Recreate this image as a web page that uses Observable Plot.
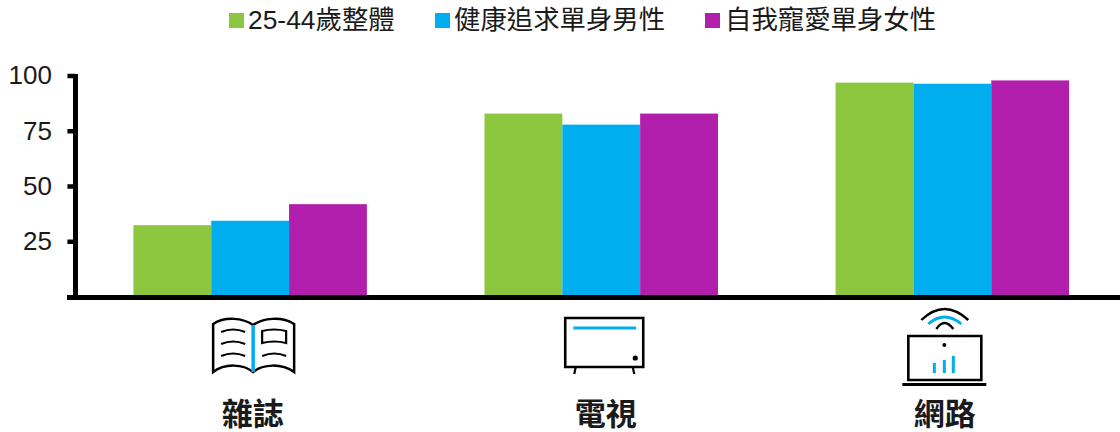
<!DOCTYPE html>
<html lang="zh-Hant">
<head>
<meta charset="utf-8">
<script src="https://cdn.jsdelivr.net/npm/d3@7"></script>
<script src="https://cdn.jsdelivr.net/npm/@observablehq/plot@0.6"></script>
<style>
  html, body { margin: 0; padding: 0; background: #fff; }
  #legend { position: relative; height: 44px; font-family: "Noto Sans CJK TC", "Liberation Sans", sans-serif; color: #1a1a1a; }
  #legend span.swatch { position: absolute; top: 13px; width: 15px; height: 15px; }
  #legend span.name { position: absolute; top: -1px; font-size: 26.4px; line-height: 38px; white-space: nowrap; }
  #legend b { font: 400 26.4px "Liberation Sans", sans-serif; }
  svg { display: block; }
</style>
</head>
<body>
<div id="legend"></div>
<div id="chart"></div>
<script>
const categories = ["雜誌", "電視", "網路"];
const seriesNames = ["25-44歲整體", "健康追求單身男性", "自我寵愛單身女性"];
const seriesColors = ["#8DC63F", "#00AEEF", "#B01EAB"];
const magazine = [32.5, 34.5, 42];
const television = [83, 78, 83];
const internet = [97, 96.5, 98];
const yTicks = [25, 50, 75, 100];

const valuesByCategory = [magazine, television, internet];
const rows = categories.flatMap((category, i) =>
  seriesNames.map((series, j) => ({category, series, value: valuesByCategory[i][j]}))
);

// Legend row above the plot
const legend = d3.select("#legend");
const swatchLeft = [229, 435, 705];
const nameLeft = [248, 454, 725];
seriesNames.forEach((name, i) => {
  legend.append("span").attr("class", "swatch")
    .style("left", swatchLeft[i] + "px").style("background", seriesColors[i]);
  const label = legend.append("span").attr("class", "name").style("left", nameLeft[i] + "px");
  const latin = name.match(/^[0-9-]+/);
  if (latin) {
    label.append("b").text(latin[0]);
    label.append("span").text(name.slice(latin[0].length));
  } else {
    label.text(name);
  }
});

// Line icons under each group, drawn around a local origin
const BLUE = seriesColors[1];
const icons = [
  {dx: 3, parts: [
    {d: "M0,-20C-10,-27 -28,-29 -40,-21L-40,27C-28,18 -10,19 0,27C10,19 28,18 41,27L41,-21C28,-29 10,-27 0,-20Z", w: 2.5},
    {d: "M-32,-13Q-20,-18 -8,-13M-32,-1Q-20,-6 -8,-1M-32,11Q-20,6 -8,11", w: 2.2},
    {d: "M9,-14Q21,-17 33,-14L33,-2Q21,-5 9,-2ZM9,11Q21,6 33,11", w: 2.2},
    {d: "M0,-20L0,27", w: 3.5, stroke: BLUE}
  ]},
  {dx: 3, parts: [
    {d: "M-39,-27H39V22H-39Z", w: 2.6},
    {d: "M-28.5,22L-30,29M28.5,22L30,29", w: 2.2},
    {d: "M-31,-17H32", w: 3.2, stroke: BLUE},
    {dot: [31, 13], r: 2.6}
  ]},
  {dx: -8, parts: [
    {d: "M-36,-9H37V35H-36Z", w: 2.6},
    {d: "M-42,39.5H42", w: 3},
    {d: "M-23,-25Q0,-47 24,-25M-8,-16Q0,-28 9,-16", w: 2.4},
    {d: "M-16,-21Q0,-35 17,-21", w: 2.8, stroke: BLUE},
    {d: "M-10,28V18M0,28V15M9,28V11", w: 3, stroke: BLUE},
    {dot: [0, 0], r: 2}
  ]}
];

const labelShift = [2, 4, -8];
const MARGIN_LEFT = 75.5;
const WIDTH = 1120;

const chart = Plot.plot({
  width: WIDTH,
  height: 388,
  marginTop: 32,
  marginBottom: 135,
  marginLeft: MARGIN_LEFT,
  marginRight: 0,
  style: {background: "#fff", overflow: "visible"},
  fx: {domain: categories, paddingInner: 0.335, paddingOuter: 0.155, align: 0.532, round: false, axis: null},
  x: {domain: seriesNames, padding: 0, round: false, axis: null},
  y: {domain: [0, 100], axis: null},
  color: {domain: seriesNames, range: seriesColors},
  marks: [
    Plot.barY(rows, {fx: "category", x: "series", y: "value", fill: "series"}),
    Plot.axisY({
      ticks: yTicks,
      label: null,
      tickSize: 8,
      tickPadding: 16,
      strokeWidth: 4.5,
      stroke: "#000",
      dx: -58,
      dy: -0.5,
      fontSize: 26,
      fontFamily: "Liberation Sans",
      fill: "#1a1a1a"
    }),
    ...categories.map((category, i) =>
      Plot.text([category], {
        fx: d => d,
        text: d => d,
        frameAnchor: "bottom",
        dy: 127,
        dx: labelShift[i],
        fontSize: 31,
        fontWeight: 700,
        fontFamily: "Noto Sans CJK TC",
        fill: "#1a1a1a"
      })
    )
  ]
});
document.getElementById("chart").appendChild(chart);

// Axis lines and icons span the whole frame, so they go on top of the finished plot
const fxScale = chart.scale("fx");
const yScale = chart.scale("y");
const y0 = yScale.apply(0);
const overlay = d3.select(chart).append("g");

const axisLines = overlay.append("g").attr("stroke", "#000").attr("stroke-width", 5);
axisLines.append("line").attr("x1", MARGIN_LEFT - 8.5).attr("x2", WIDTH).attr("y1", y0 + 0.5).attr("y2", y0 + 0.5);
axisLines.append("line").attr("x1", MARGIN_LEFT).attr("x2", MARGIN_LEFT)
  .attr("y1", yScale.apply(100) - 2).attr("y2", y0);

categories.forEach((category, i) => {
  const cx = fxScale.apply(category) + fxScale.bandwidth / 2 + icons[i].dx;
  const g = overlay.append("g").attr("transform", `translate(${cx},${y0 + 48})`).attr("fill", "none");
  for (const p of icons[i].parts) {
    if (p.dot) {
      g.append("circle").attr("cx", p.dot[0]).attr("cy", p.dot[1]).attr("r", p.r).attr("fill", "#000");
    } else {
      g.append("path").attr("d", p.d).attr("stroke-width", p.w).attr("stroke", p.stroke || "#000");
    }
  }
});
</script>
</body>
</html>
